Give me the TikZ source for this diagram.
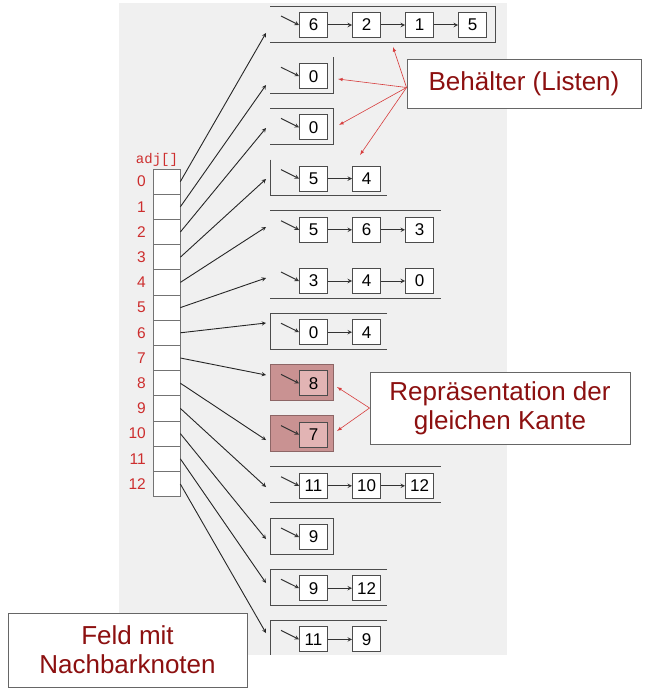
\documentclass[tikz,border=0pt]{standalone}
\usepackage{fontspec}
\setmainfont{Liberation Sans}
\newfontfamily\adjfont{Liberation Mono}
\usepackage{xcolor}
\usetikzlibrary{calc}

\definecolor{PanelGray}{RGB}{240,240,240}
\definecolor{IdxRed}{RGB}{205,45,45}
\definecolor{NoteRed}{RGB}{140,16,16}
\definecolor{HintRed}{RGB}{215,60,60}
\definecolor{EdgePink}{RGB}{201,146,146}
\definecolor{EdgePinkIn}{RGB}{226,180,180}

\tikzset{
	cell/.style={draw=black!55, fill=white, minimum width=27pt, minimum height=25.2pt, inner sep=0pt, line width=0.7pt},
	idx/.style={text=IdxRed, font=\fontsize{15.5}{15.5}\selectfont, anchor=east, inner sep=0pt},
	item/.style={draw=black!70, fill=white, minimum width=28pt, minimum height=25pt, inner sep=0pt, line width=0.9pt, font=\fontsize{17}{17}\selectfont},
	shelf/.style={draw=black!70, line width=0.9pt},
	link/.style={-stealth, line width=1pt, black!80},
	ref/.style={-stealth, line width=0.9pt, black!85},
	hint/.style={-latex, HintRed, line width=0.6pt},
	note/.style={draw=black!60, fill=white, line width=0.9pt, text=NoteRed, align=center, font=\fontsize{26}{29}\selectfont, inner sep=0pt},
}

\begin{document}
\begin{tikzpicture}[x=1pt, y=-1pt]
\useasboundingbox (0,0) rectangle (652,693);
\fill[PanelGray] (119,3) rectangle (507,655);

% bags (list containers)
\draw[shelf] (270,6) -- (495,6) -- (495,42) -- (270,42);
\draw[shelf] (333,57.2) -- (333,93.2) -- (270,93.2);
\draw[shelf] (270,108.4) -- (333,108.4) -- (333,144.4) -- (270,144.4);
\draw[shelf] (270,159.6) -- (270,195.6) -- (387,195.6);
\draw[shelf] (270,210.8) -- (441,210.8);
\draw[shelf] (270,298) -- (441,298);
\draw[shelf] (387,313.2) -- (270,313.2) -- (270,349.2) -- (387,349.2);
\draw[shelf, fill=EdgePink, draw=EdgePink!70!black] (270,364.4) rectangle (333,400.4);
\draw[shelf, fill=EdgePink, draw=EdgePink!70!black] (270,415.6) rectangle (333,451.6);
\draw[shelf] (270,466.8) -- (441,466.8);
\draw[shelf] (270,502.8) -- (441,502.8);
\draw[shelf] (270,518) rectangle (333,554);
\draw[shelf] (387,569.2) -- (270,569.2) -- (270,605.2) -- (387,605.2);
\draw[shelf] (387,620.4) -- (270,620.4) -- (270,655);

% adjacency lists
\foreach \k/\vals/\bg in {0/{6,2,1,5}/white, 1/{0}/white, 2/{0}/white, 3/{5,4}/white,
	4/{5,6,3}/white, 5/{3,4,0}/white, 6/{0,4}/white, 7/{8}/EdgePinkIn, 8/{7}/EdgePinkIn,
	9/{11,10,12}/white, 10/{9}/white, 11/{9,12}/white, 12/{11,9}/white} {
	\pgfmathsetmacro\yc{25+51.2*\k}
	\foreach \v [count=\j] in \vals {
		\pgfmathtruncatemacro\pj{\j-1}
		\node[item, fill=\bg] (l\k-\j) at ({313.5+53*(\j-1)}, \yc) {\v};
		\ifnum\j>1 \draw[link] (l\k-\pj) -- (l\k-\j); \fi
	}
	\coordinate (h\k) at (281, \yc-9);
	\draw[link] (h\k) -- (l\k-1.west);
}

% array adj[]
\node[text=IdxRed, font=\adjfont\fontsize{14}{14}\selectfont, inner sep=0pt] (adj) at (157,159.5) {adj[]};
\foreach \i in {0,...,12} {
	\node[cell] (a\i) at (166.5, 181.6+25.2*\i) {};
	\node[idx] (n\i) at (146, 181.6+25.2*\i) {\i};
}
\foreach \i/\ey in {0/33,1/85,2/128,3/179,4/227,5/278,6/323,7/375,8/440,9/487,10/539,11/583,12/633} {
	\coordinate (e\i) at (266,\ey);
	\draw[ref] (a\i.east) -- (e\i);
}

% notes
\node[note, minimum width=234pt, minimum height=49pt] (beh) at (524,83.5) {Behälter (Listen)};
\node[note, minimum width=260pt, minimum height=72pt] (rep) at (500,408) {Repräsentation der\\gleichen Kante};
\node[note, minimum width=239pt, minimum height=74pt] (feld) at (127.5,650) {Feld mit\\Nachbarknoten};

\coordinate (t0) at (393,47);
\coordinate (t1) at (338,79);
\coordinate (t2) at (339,125);
\coordinate (t3) at (360,155);
\foreach \t in {t0,t1,t2,t3}
	\draw[hint] ([yshift=-4pt]beh.west) -- (\t);
\coordinate (r7) at (337,387);
\coordinate (r8) at (337,431);
\draw[hint] (rep.west) -- (r7);
\draw[hint] (rep.west) -- (r8);
\end{tikzpicture}
\end{document}
